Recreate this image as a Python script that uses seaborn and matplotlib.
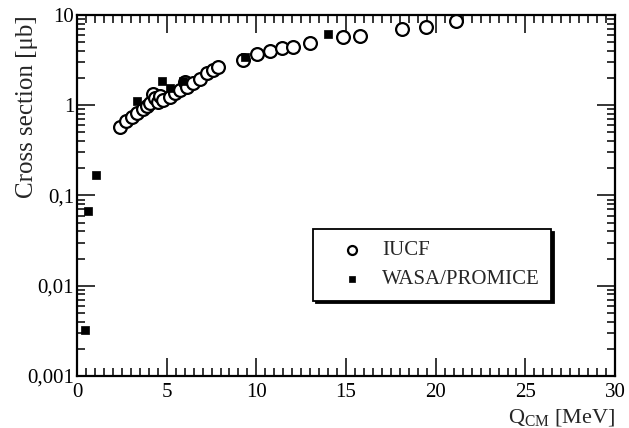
import numpy as np
import pandas as pd
import matplotlib
matplotlib.use("Agg")
import matplotlib.pyplot as plt
import matplotlib.ticker as mticker
import seaborn as sns

# ---- data ----
iucf_q = [2.4, 2.73, 3.07, 3.35, 3.68, 3.9, 4.07, 4.24, 4.35, 4.52, 4.63, 4.8, 5.19, 5.47,
          5.74, 6.02, 6.13, 6.47, 6.86, 7.25, 7.58, 7.86, 9.26, 10.04, 10.76, 11.43,
          12.05, 13.0, 14.84, 15.78, 18.13, 19.46, 21.14]
iucf_sigma = [0.57, 0.67, 0.74, 0.82, 0.91, 0.98, 1.06, 1.33, 1.2, 1.08, 1.27, 1.14, 1.23, 1.37,
              1.48, 1.81, 1.59, 1.77, 1.95, 2.28, 2.46, 2.65, 3.17, 3.70, 3.99, 4.31,
              4.41, 4.90, 5.70, 5.85, 7.0, 7.37, 8.58]

wasa_q = [0.45, 0.6, 1.06, 3.35, 4.74, 5.2, 5.9, 9.37, 14.0]
wasa_sigma = [0.0032, 0.067, 0.169, 1.11, 1.86, 1.55, 1.85, 3.43, 6.2]

xticks = [0, 5, 10, 15, 20, 25, 30]
yticks = [0.001, 0.01, 0.1, 1, 10]
ytick_labels = ["0,001", "0,01", "0,1", "1", "10"]
series_names = ["IUCF", "WASA/PROMICE"]

sns.set_style("ticks")
plt.rcParams["font.family"] = ["Liberation Serif", "DejaVu Serif"]
plt.rcParams["mathtext.fontset"] = "custom"
plt.rcParams["mathtext.rm"] = "Liberation Serif"
plt.rcParams["mathtext.it"] = "Liberation Serif:italic"

df_iucf = pd.DataFrame({"Q": iucf_q, "sigma": iucf_sigma})
df_wasa = pd.DataFrame({"Q": wasa_q, "sigma": wasa_sigma})

fig = plt.figure(figsize=(6.29, 4.28), dpi=100)
ax = fig.add_axes([0.1224, 0.1215, 0.8556, 0.8435])

sns.scatterplot(data=df_iucf, x="Q", y="sigma", ax=ax, marker="o", s=85,
                facecolor="white", edgecolor="black", linewidth=1.6, label=series_names[0],
                zorder=3)
sns.scatterplot(data=df_wasa, x="Q", y="sigma", ax=ax, marker="s", s=28,
                color="black", edgecolor="black", linewidth=0.5, label=series_names[1],
                zorder=4)

ax.set_yscale("log")
ax.set_xlim(0, 30)
ax.set_ylim(0.001, 10)

ax.set_xticks(xticks)
ax.set_xticklabels([str(t) for t in xticks])
ax.xaxis.set_minor_locator(mticker.MultipleLocator(0.5))
ax.set_yticks(yticks)
ax.set_yticklabels(ytick_labels)
ax.yaxis.set_minor_locator(mticker.LogLocator(base=10, subs=np.arange(2, 10), numticks=20))
ax.yaxis.set_minor_formatter(mticker.NullFormatter())

ax.tick_params(which="both", direction="in", top=True, right=True, labelsize=15,
               width=1.1, colors="black")
ax.tick_params(which="major", length=13)
ax.tick_params(which="minor", length=6)
ax.tick_params(axis="x", which="major", pad=5)
ax.tick_params(axis="y", which="major", pad=2)
for sp in ax.spines.values():
    sp.set_linewidth(1.6)
    sp.set_color("black")

ax.set_ylabel("Cross section [μb]", fontsize=18)
ax.yaxis.set_label_coords(-0.073, 0.745)
ax.set_xlabel(r"Q$_{\mathrm{CM}}$ [MeV]", fontsize=16)
ax.xaxis.set_label_coords(1.0, -0.085)
ax.xaxis.label.set_horizontalalignment("right")

ax.grid(False)
leg = ax.legend(loc="upper left", bbox_to_anchor=(0.4387, 0.407), borderaxespad=0,
                frameon=True, fancybox=False, edgecolor="black", fontsize=15,
                handlelength=2.6, handletextpad=0.17, borderpad=0.55, labelspacing=0.45,
                markerscale=0.7,
                shadow={"color": "black", "alpha": 1.0, "ox": 2, "oy": -2})
leg.get_frame().set_linewidth(1.3)

fig.savefig("out.png", dpi=100)
